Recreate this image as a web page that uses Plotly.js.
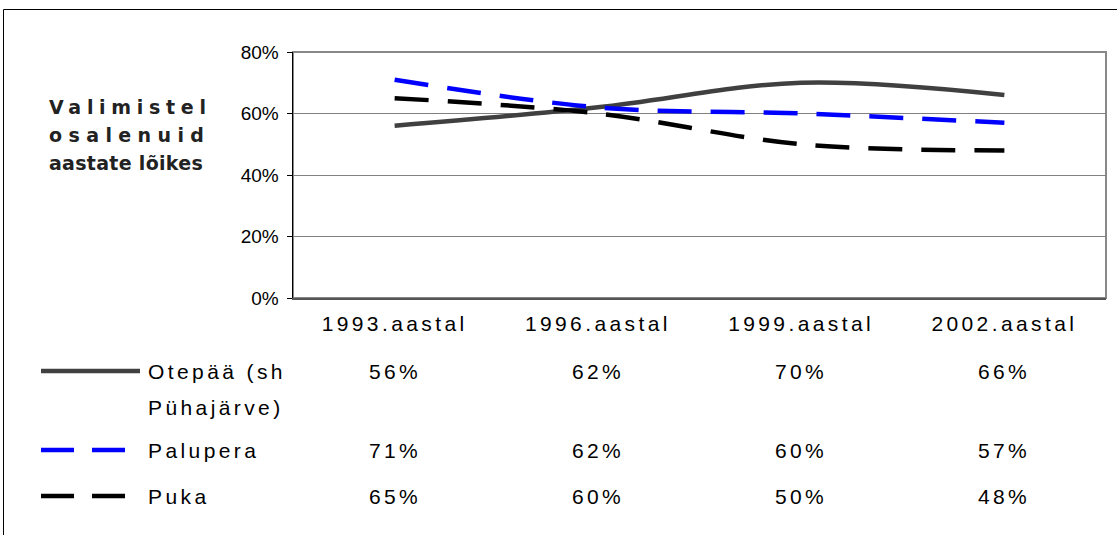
<!DOCTYPE html>
<html><head><meta charset="utf-8">
<script src="https://cdn.plot.ly/plotly-3.0.1.min.js"></script>
<style>
html,body{margin:0;padding:0;background:#fff;}
#chart{width:1117px;height:535px;}
.xtick text{letter-spacing:3.4px;}
</style></head><body><div id="chart"></div>
<script>
// ---- data ----
const categories = ['1993.aastal', '1996.aastal', '1999.aastal', '2002.aastal'];
const seriesNames = ['Otepää (sh<br>Pühajärve)', 'Palupera', 'Puka'];
const otepaa = [0.56, 0.62, 0.70, 0.66];
const palupera = [0.71, 0.62, 0.60, 0.57];
const puka = [0.65, 0.60, 0.50, 0.48];
const yTickVals = [0, 0.2, 0.4, 0.6, 0.8];
const yTickText = ['0%', '20%', '40%', '60%', '80%'];
const yTitleLines = ['Valimistel', 'osalenuid', 'aastate lõikes'];

// ---- layout helpers ----
const L = 293, R = 1106, T = 52, B = 298;
const fx = px => (px - L) / (R - L);
const fy = py => (B - py) / (B - T);
const FONT = 'Liberation Sans, Arial, sans-serif';

const seriesValues = [otepaa, palupera, puka];
const styles = [
  {color: '#404040', dash: 'solid'},
  {color: '#0000ff', dash: '34px,19px'},
  {color: '#000000', dash: '34px,19px'}
];

const traces = seriesValues.map((vals, i) => ({
  type: 'scatter', mode: 'lines',
  x: categories, y: vals,
  name: seriesNames[i].replace('<br>', ' '),
  line: {color: styles[i].color, width: 4.5, dash: styles[i].dash, shape: 'spline', smoothing: 1},
  hoverinfo: 'skip', showlegend: false
}));

const annotations = [];
const spacing = [];
function addAnn(a, ls) { annotations.push(a); spacing.push(ls); }

// y-title block
const titleY = [107, 135, 163];
const titleSpacing = [5.7, 6.4, 0.3];
yTitleLines.forEach((t, i) => addAnn({
  text: '<b>' + t + '</b>', xref: 'paper', yref: 'paper',
  x: fx(47), y: fy(titleY[i]), xanchor: 'left', yanchor: 'middle', showarrow: false,
  align: 'left', font: {family: 'DejaVu Sans, sans-serif', size: 19, color: '#222'}
}, titleSpacing[i]));

// data table rows
const rowY = [371, 450, 496];
const labelLines = [[371, 407], [450], [496]];
seriesNames.forEach((nm, i) => {
  nm.split('<br>').forEach((part, k) => addAnn({
    text: part, xref: 'paper', yref: 'paper', x: fx(146), y: fy(labelLines[i][k]),
    xanchor: 'left', yanchor: 'middle', showarrow: false, align: 'left',
    font: {family: FONT, size: 21, color: '#000'}
  }, 3.4));
  seriesValues[i].forEach((v, j) => addAnn({
    text: Math.round(v * 100) + '%', xref: 'x', yref: 'paper', x: categories[j], y: fy(rowY[i]),
    xanchor: 'center', yanchor: 'middle', showarrow: false,
    font: {family: FONT, size: 21, color: '#000'}
  }, 3.4));
});

// legend keys in the table
const keyEnds = [140, 125, 125];
const shapes = styles.map((s, i) => ({
  type: 'line', xref: 'paper', yref: 'paper',
  x0: fx(41), x1: fx(keyEnds[i]), y0: fy(rowY[i]), y1: fy(rowY[i]),
  line: {color: s.color, width: 4.5, dash: s.dash === 'solid' ? 'solid' : '33px,18px'}
}));
// plot area border
shapes.push({type: 'rect', xref: 'paper', yref: 'paper', x0: 0, x1: 1, y0: 0, y1: 1,
  line: {color: '#888', width: 2}, layer: 'below'});
// outer chart frame
shapes.push({type: 'rect', xref: 'paper', yref: 'paper', x0: fx(3.5), x1: fx(1130), y0: fy(9.5), y1: fy(550),
  line: {color: '#000', width: 1}, layer: 'above'});

const layout = {
  width: 1117, height: 535,
  margin: {l: L, r: 1117 - R, t: T, b: 535 - B, pad: 0},
  paper_bgcolor: '#fff', plot_bgcolor: '#fff',
  showlegend: false,
  xaxis: {
    type: 'category', categoryarray: categories, range: [-0.5, 3.5],
    showgrid: false, zeroline: false, ticks: '', showline: true, linecolor: '#555', linewidth: 1.5,
    tickfont: {family: FONT, size: 21, color: '#000'}, ticklabelstandoff: 6, fixedrange: true
  },
  yaxis: {
    range: [0, 0.8], tickvals: yTickVals, ticktext: yTickText,
    showgrid: true, gridcolor: '#808080', gridwidth: 1, zeroline: false,
    showline: true, linecolor: '#000', linewidth: 1.5, ticks: 'outside', ticklen: 5, tickcolor: '#000',
    tickfont: {family: FONT, size: 19, color: '#000'}, ticklabelstandoff: 4, fixedrange: true
  },
  annotations: annotations,
  shapes: shapes
};

// per-annotation letter spacing via CSS
const css = spacing.map((s, i) => `g.annotation[data-index="${i}"] text{letter-spacing:${s}px;}`).join('\n');
const st = document.createElement('style'); st.textContent = css; document.head.appendChild(st);

Plotly.newPlot('chart', traces, layout, {staticPlot: true, displayModeBar: false});
</script></body></html>
